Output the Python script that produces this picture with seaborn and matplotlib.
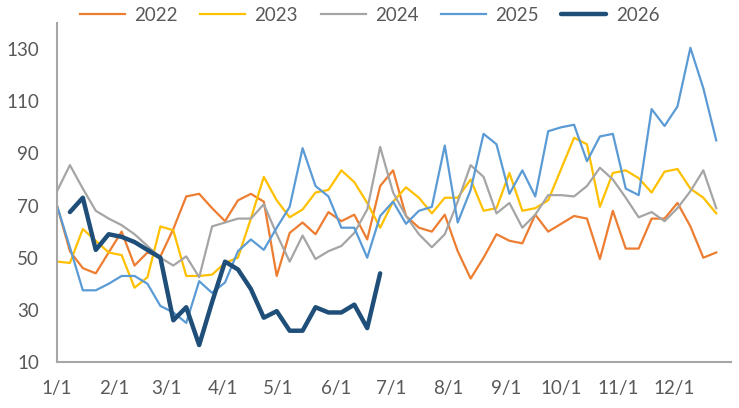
import numpy as np
import pandas as pd
import seaborn as sns
import matplotlib.pyplot as plt

# weekly values, one point every 7 days starting 1/1
y2022 = [70, 52.5, 46, 44, 52, 60, 47, 52, 50.5, 61, 73.5, 74.5, 69, 64, 72, 74.5, 71.5, 43,
         59.5, 63.5, 59, 67.5, 64, 66.5, 57, 77.5, 83.5, 66, 61.5, 60, 66.5, 52.5, 42, 50,
         59, 56.5, 55.5, 66.5, 60, 63, 66, 65, 49.5, 68, 53.5, 53.5, 65, 65, 71, 62, 50, 52]
y2023 = [48.5, 48, 61, 56.5, 52, 51, 38.5, 42.5, 62, 60.5, 43, 43, 43.5, 48, 50, 65, 81, 72,
         65.5, 68.5, 75, 76, 83.5, 79, 71, 61.5, 71.5, 77, 73, 67, 73, 73, 80, 68, 69, 82.5,
         68, 69, 72, 84, 96, 93.5, 69.5, 82.5, 83.5, 80.5, 75, 83, 84, 76.5, 73, 67]
y2024 = [75.5, 85.5, 76.5, 68, 65, 62.5, 59, 54.5, 50, 47, 50.5, 42.5, 62, 63.5, 65, 65, 70.5,
         59, 48.5, 58.5, 49.5, 52.5, 54.5, 59.5, 68.5, 92.5, 75, 66, 59, 54, 59, 71.5, 85.5,
         81, 67, 71, 61.5, 66.5, 74, 74, 73.5, 77.5, 84.5, 80, 73, 65.5, 67.5, 64, 69, 75.5,
         83.5, 69]
y2025 = [70, 54, 37.5, 37.5, 40, 43, 43, 40, 31.5, 29, 25, 41, 36.5, 40.5, 52.5, 57, 53, 61.5,
         69.5, 92, 77.5, 73.5, 61.5, 61.5, 50, 66, 71.5, 63, 68, 69.5, 93, 63.5, 76, 97.5, 93.5,
         74.5, 83.5, 73.5, 98.5, 100, 101, 87, 96.5, 97.5, 76.5, 74, 107, 100.5, 108, 130.5,
         115, 95]
y2026 = [np.nan, 67.5, 73, 53, 59, 58, 56, 53, 50, 26, 31, 16.5, 33, 48.5, 45.5, 38, 27, 29.5,
         22, 22, 31, 29, 29, 32, 23, 44]

years = ["2022", "2023", "2024", "2025", "2026"]
series = [y2022, y2023, y2024, y2025, y2026]
colors = ["#ED7D31", "#FFC000", "#A5A5A5", "#5B9BD5", "#1F4E79"]
widths = [1.6, 1.6, 1.6, 1.6, 3.2]

month_days = [0, 31, 59, 90, 120, 151, 181, 212, 243, 273, 304, 334, 365]
month_labels = ["1/1", "2/1", "3/1", "4/1", "5/1", "6/1", "7/1", "8/1", "9/1",
                "10/1", "11/1", "12/1", ""]

sns.set_theme(style="white")
plt.rcParams['font.family'] = ['Lato', 'DejaVu Sans']

fig = plt.figure(figsize=(7.39, 4.08), dpi=100)
ax = fig.add_axes([0.0771, 0.1127, 0.9121, 0.8309])

for yr, vals, c, lw in zip(years, series, colors, widths):
    d = pd.DataFrame({"day": np.arange(len(vals)) * 7, "v": vals}).dropna()
    sns.lineplot(data=d, x="day", y="v", color=c, linewidth=lw, label=yr, ax=ax,
                 solid_capstyle="round" if yr == "2026" else "projecting")

ax.set_xlim(0, 365)
ax.set_ylim(10, 140)
ax.set_yticks([10, 30, 50, 70, 90, 110, 130])
ax.set_xticks(month_days)
ax.set_xticklabels(month_labels)
ax.set_xlabel("")
ax.set_ylabel("")

axcol = "#A6A6A6"
txtcol = "#595959"
for s in ["top", "right"]:
    ax.spines[s].set_visible(False)
for s in ["left", "bottom"]:
    ax.spines[s].set_color(axcol)
    ax.spines[s].set_linewidth(1.5)
ax.tick_params(axis="both", which="major", direction="out", colors=axcol,
               labelcolor=txtcol, labelsize=13.5, width=1.5)
ax.tick_params(axis="y", length=5, pad=8)
ax.tick_params(axis="x", length=5, pad=8)

leg = ax.legend(loc="center", bbox_to_anchor=(0.5, 0.963), bbox_transform=fig.transFigure,
                ncol=5, frameon=False, fontsize=13.5, handlelength=2.4, handletextpad=0.5,
                columnspacing=1.2, labelcolor=txtcol)

fig.savefig("out.png", dpi=100)
